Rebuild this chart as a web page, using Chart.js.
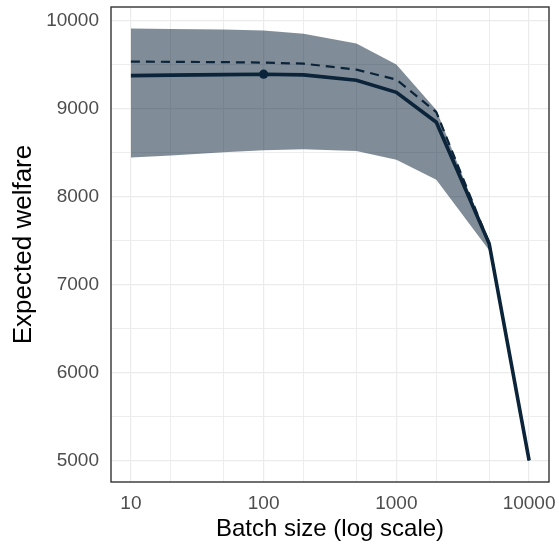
<!DOCTYPE html>
<html>
<head>
<meta charset="utf-8">
<script src="https://cdn.jsdelivr.net/npm/chart.js@4"></script>
<style>
  body { margin: 0; background: #fff; }
  canvas { display: block; }
</style>
</head>
<body>
<canvas id="myChart" width="559" height="544"></canvas>
<script>
// batch sizes (x, log scale)
var batchSizes = [10, 20, 50, 100, 200, 500, 1000, 2000, 5000, 10000];
// expected welfare, solid line
var welfareMean = [9375, 9380, 9386, 9391, 9383, 9322, 9185, 8845, 7466, 5000];
// dashed line
var welfareDashed = [9534, 9532, 9528, 9523, 9511, 9443, 9330, 8960, 7470, 5000];
// ribbon
var ribbonUpper = [9910, 9905, 9898, 9887, 9852, 9739, 9500, 8985, 7475, 5000];
var ribbonLower = [8443, 8467, 8503, 8526, 8537, 8518, 8418, 8192, 7390, 5000];
// highlighted point
var markerX = [100];
var markerY = [9391];

// gridlines and labels
var xGridValues = [10, 20, 50, 100, 200, 500, 1000, 2000, 5000, 10000];
var xTickLabels = [10, 100, 1000, 10000];
var yGridValues = [5000, 5500, 6000, 6500, 7000, 7500, 8000, 8500, 9000, 9500, 10000];
var yTickLabels = [5000, 6000, 7000, 8000, 9000, 10000];

var lineColor = '#0b2439';
var ribbonColor = 'rgba(11, 36, 57, 0.52)';

function toPoints(xs, ys) {
    return xs.map(function (x, i) { return { x: x, y: ys[i] }; });
}

Chart.defaults.font.family = "'Liberation Sans', Arial, sans-serif";

// panel border drawn on top, like ggplot theme_bw
var panelBorder = {
    id: 'panelBorder',
    afterDraw: function (chart) {
        var a = chart.chartArea;
        var c = chart.ctx;
        c.save();
        c.strokeStyle = '#333333';
        c.lineWidth = 1.4;
        c.strokeRect(a.left, a.top, a.right - a.left, a.bottom - a.top);
        c.restore();
    }
};

function noEdgePadding(scale) {
    scale.paddingTop = 0;
    scale.paddingBottom = 0;
    scale.paddingLeft = 0;
    scale.paddingRight = 0;
}

var ctx = document.getElementById('myChart').getContext('2d');

var myChart = new Chart(ctx, {
    type: 'line',
    data: {
        datasets: [
            {
                label: 'point',
                data: toPoints(markerX, markerY),
                showLine: false,
                pointRadius: 4.6,
                pointBackgroundColor: lineColor,
                pointBorderWidth: 0
            },
            {
                label: 'mean',
                data: toPoints(batchSizes, welfareMean),
                borderColor: lineColor,
                borderWidth: 3.6,
                pointRadius: 0,
                fill: false
            },
            {
                label: 'dashed',
                data: toPoints(batchSizes, welfareDashed),
                borderColor: lineColor,
                borderWidth: 2.2,
                borderDash: [9, 6],
                pointRadius: 0,
                fill: false
            },
            {
                label: 'upper',
                data: toPoints(batchSizes, ribbonUpper),
                borderWidth: 0,
                borderColor: 'rgba(0,0,0,0)',
                backgroundColor: ribbonColor,
                pointRadius: 0,
                fill: '+1'
            },
            {
                label: 'lower',
                data: toPoints(batchSizes, ribbonLower),
                borderWidth: 0,
                borderColor: 'rgba(0,0,0,0)',
                pointRadius: 0,
                fill: false
            }
        ]
    },
    options: {
        responsive: false,
        animation: false,
        devicePixelRatio: 1,
        layout: { padding: { top: 7, right: 10, left: 0, bottom: 0 } },
        plugins: {
            legend: { display: false },
            tooltip: { enabled: false }
        },
        scales: {
            x: {
                type: 'logarithmic',
                min: Math.pow(10, 0.85),
                max: Math.pow(10, 4.15),
                afterBuildTicks: function (scale) {
                    scale.ticks = xGridValues.map(function (v) { return { value: v }; });
                },
                afterFit: function (scale) {
                    scale.height = 62;
                    noEdgePadding(scale);
                },
                border: { display: false },
                grid: {
                    color: '#ebebeb',
                    drawTicks: false,
                    lineWidth: function (c) {
                        return xTickLabels.indexOf(c.tick.value) >= 0 ? 1.2 : 0.9;
                    }
                },
                ticks: {
                    autoSkip: false,
                    maxRotation: 0,
                    padding: 10,
                    color: '#4d4d4d',
                    font: { size: 19 },
                    callback: function (value) {
                        return xTickLabels.indexOf(value) >= 0 ? String(value) : '';
                    }
                },
                title: {
                    display: true,
                    text: 'Batch size (log scale)',
                    color: '#000000',
                    font: { size: 24 },
                    padding: { top: 0, bottom: 0 }
                }
            },
            y: {
                min: 4755,
                max: 10155,
                afterBuildTicks: function (scale) {
                    scale.ticks = yGridValues.map(function (v) { return { value: v }; });
                },
                afterFit: function (scale) {
                    scale.width = 111;
                    noEdgePadding(scale);
                },
                border: { display: false },
                grid: {
                    color: '#ebebeb',
                    drawTicks: false,
                    lineWidth: function (c) {
                        return yTickLabels.indexOf(c.tick.value) >= 0 ? 1.2 : 0.9;
                    }
                },
                ticks: {
                    autoSkip: false,
                    padding: 12,
                    color: '#4d4d4d',
                    font: { size: 19 },
                    callback: function (value) {
                        return yTickLabels.indexOf(value) >= 0 ? String(value) : '';
                    }
                },
                title: {
                    display: true,
                    text: 'Expected welfare',
                    color: '#000000',
                    font: { size: 26 },
                    padding: { top: 8, bottom: 0 }
                }
            }
        }
    },
    plugins: [panelBorder]
});
</script>
</body>
</html>
